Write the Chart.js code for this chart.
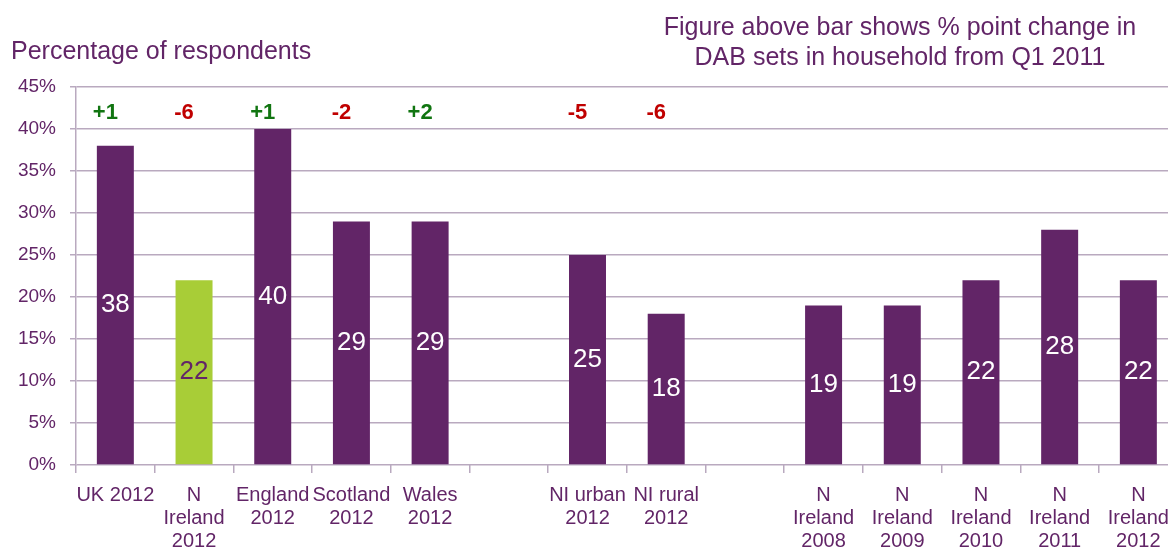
<!DOCTYPE html>
<html lang="en">
<head>
    <meta charset="UTF-8">
    <title>DAB sets in household</title>
    <script src="https://cdn.jsdelivr.net/npm/chart.js"></script>
    <style>
        body { margin: 0; background: #ffffff; overflow: hidden; }
        #wrap { width: 1168px; height: 548px; overflow: hidden; }
    </style>
</head>
<body>
<div id="wrap"><canvas id="dabChart" width="1180" height="548"></canvas></div>
<script>
  // categories (empty strings are the gaps between groups)
  const categories = [
    'UK 2012', ['N', 'Ireland', '2012'], ['England', '2012'], ['Scotland', '2012'], ['Wales', '2012'],
    '', ['NI urban', '2012'], ['NI rural', '2012'],
    '', ['N', 'Ireland', '2008'], ['N', 'Ireland', '2009'], ['N', 'Ireland', '2010'], ['N', 'Ireland', '2011'], ['N', 'Ireland', '2012']
  ];
  const respondents = [38, 22, 40, 29, 29, null, 25, 18, null, 19, 19, 22, 28, 22];
  const changeSinceQ1 = ['+1', '-6', '+1', '-2', '+2', null, '-5', '-6', null, null, null, null, null, null];
  const highlighted = [false, true, false, false, false, false, false, false, false, false, false, false, false, false];
  const yTicks = [0, 5, 10, 15, 20, 25, 30, 35, 40, 45];

  const purple = '#622567';
  const green = '#a8cd37';
  const gridColour = '#b9a9bf';
  const font = '"Liberation Sans", Arial, sans-serif';

  const labelsPlugin = {
    id: 'labels',
    afterDatasetsDraw(chart) {
      const ctx = chart.ctx;
      const meta = chart.getDatasetMeta(0);
      ctx.save();
      ctx.textAlign = 'center';
      ctx.textBaseline = 'middle';
      // values inside bars
      ctx.font = '26px ' + font;
      meta.data.forEach((bar, i) => {
        if (respondents[i] == null) return;
        ctx.fillStyle = highlighted[i] ? purple : '#ffffff';
        ctx.fillText(respondents[i], bar.x, (bar.y + bar.base) / 2);
      });
      // change figures above bars
      ctx.font = 'bold 22px ' + font;
      const x = chart.scales.x;
      changeSinceQ1.forEach((c, i) => {
        if (!c) return;
        ctx.fillStyle = c[0] === '+' ? '#117511' : '#c00000';
        ctx.fillText(c, x.getPixelForValue(i) - 10, 113);
      });
      ctx.restore();
    },
    afterDraw(chart) {
      const ctx = chart.ctx;
      ctx.save();
      ctx.fillStyle = purple;
      ctx.textBaseline = 'alphabetic';
      ctx.font = '25px ' + font;
      ctx.textAlign = 'left';
      ctx.fillText('Percentage of respondents', 11, 59);
      ctx.textAlign = 'center';
      ctx.fillText('Figure above bar shows % point change in', 900, 35);
      ctx.fillText('DAB sets in household from Q1 2011', 900, 65);
      ctx.restore();
    }
  };

  new Chart(document.getElementById('dabChart'), {
    type: 'bar',
    data: {
      labels: categories,
      datasets: [{
        data: respondents,
        backgroundColor: highlighted.map(h => h ? green : purple),
        barPercentage: 0.47,
        categoryPercentage: 1
      }]
    },
    options: {
      responsive: false,
      animation: false,
      layout: { padding: { top: 87, right: 2, left: 0, bottom: 0 } },
      plugins: { legend: { display: false }, tooltip: { enabled: false } },
      scales: {
        x: {
          afterFit: s => { s.height = 83; },
          grid: { drawOnChartArea: false, drawTicks: true, tickLength: 8, color: gridColour, lineWidth: 1.5 },
          border: { display: false },
          ticks: {
            color: purple, padding: 11, maxRotation: 0, autoSkip: false,
            font: { family: font, size: 20, lineHeight: 1.14 }
          }
        },
        y: {
          min: 0, max: 45,
          afterFit: s => { s.width = 76; },
          afterBuildTicks: s => { s.ticks = yTicks.map(v => ({ value: v })); },
          grid: { color: gridColour, lineWidth: 1.5, tickLength: 6 },
          border: { color: gridColour, width: 1.5 },
          ticks: {
            color: purple, padding: 14,
            font: { family: font, size: 19 },
            callback: v => v + '%'
          }
        }
      }
    },
    plugins: [labelsPlugin]
  });
</script>
</body>
</html>
